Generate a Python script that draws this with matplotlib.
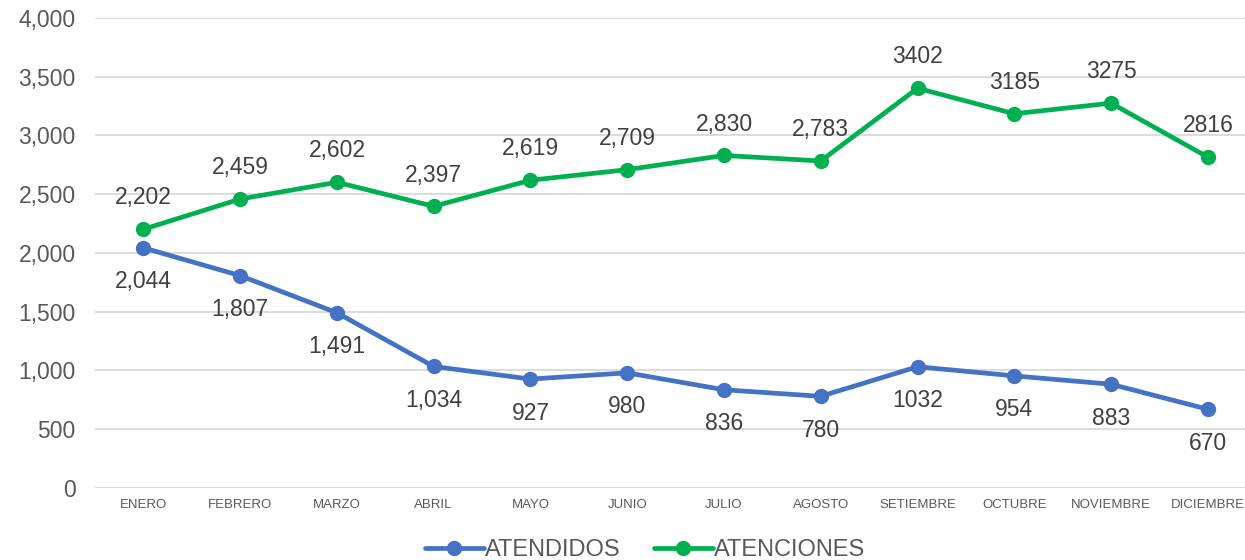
import matplotlib
matplotlib.use("Agg")
import matplotlib.pyplot as plt
from matplotlib.ticker import FuncFormatter

plt.rcParams['font.family'] = ['Liberation Sans', 'DejaVu Sans']

months = ["ENERO", "FEBRERO", "MARZO", "ABRIL", "MAYO", "JUNIO", "JULIO",
          "AGOSTO", "SETIEMBRE", "OCTUBRE", "NOVIEMBRE", "DICIEMBRE"]
atendidos = [2044, 1807, 1491, 1034, 927, 980, 836, 780, 1032, 954, 883, 670]
atenciones = [2202, 2459, 2602, 2397, 2619, 2709, 2830, 2783, 3402, 3185, 3275, 2816]
atendidos_labels = ["2,044", "1,807", "1,491", "1,034", "927", "980", "836",
                    "780", "1032", "954", "883", "670"]
atenciones_labels = ["2,202", "2,459", "2,602", "2,397", "2,619", "2,709", "2,830",
                     "2,783", "3402", "3185", "3275", "2816"]
yticks = [0, 500, 1000, 1500, 2000, 2500, 3000, 3500, 4000]

fig = plt.figure(figsize=(12.45, 5.6), dpi=100)
ax = fig.add_axes([0.0763, 0.1286, 1.009 - 0.0763, 0.9679 - 0.1286])

x = list(range(len(months)))
blue = "#4472C4"
green = "#00B050"
ax.plot(x, atendidos, color=blue, lw=3.4, marker="o", ms=10, label="ATENDIDOS",
        solid_capstyle="round", zorder=3)
ax.plot(x, atenciones, color=green, lw=3.4, marker="o", ms=10, label="ATENCIONES",
        solid_capstyle="round", zorder=3)

for xi, v, t in zip(x, atendidos, atendidos_labels):
    ax.annotate(t, (xi, v), xytext=(0, -24.5), textcoords="offset points",
                ha="center", va="center", fontsize=16.5, color="#404040")
for xi, v, t in zip(x, atenciones, atenciones_labels):
    ax.annotate(t, (xi, v), xytext=(0, 22.5), textcoords="offset points",
                ha="center", va="center", fontsize=16.5, color="#404040")

ax.set_xlim(-0.5, len(months) - 0.5)
ax.set_ylim(0, 4000)
ax.set_yticks(yticks)
ax.yaxis.set_major_formatter(FuncFormatter(lambda v, p: f"{int(v):,}"))
ax.set_xticks(x)
ax.set_xticklabels(months, fontsize=9.5, color="#595959")
ax.tick_params(axis="y", labelsize=16.5, labelcolor="#595959", length=0, pad=14)
ax.tick_params(axis="x", length=0, pad=8)
ax.grid(axis="y", color="#d9d9d9", lw=1.3)
ax.set_axisbelow(True)
for s in ax.spines.values():
    s.set_visible(False)

leg = fig.legend(loc="center", bbox_to_anchor=(0.518, 0.018), ncol=2, frameon=False,
                 fontsize=17, handlelength=2.5, columnspacing=1.4, handletextpad=0.05,
                 labelcolor="#595959")

fig.savefig("out.png", dpi=100)
